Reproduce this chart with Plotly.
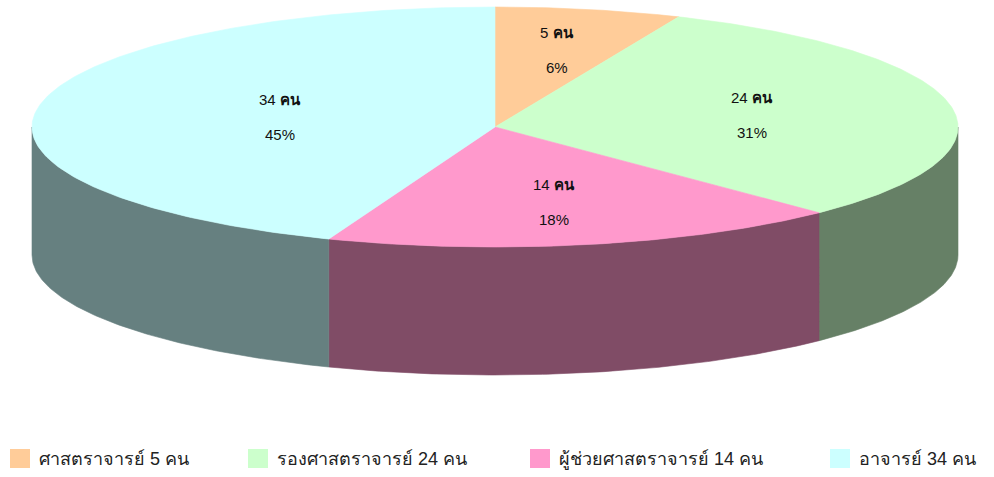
import numpy as np
import plotly.graph_objects as go

# ---- data ----
names = ["ศาสตราจารย์", "รองศาสตราจารย์", "ผู้ช่วยศาสตราจารย์", "อาจารย์"]
counts = [5, 24, 14, 34]
unit = "คน"
top_colors = ["#FFCC99", "#CCFFCC", "#FF99CC", "#CCFFFF"]
side_colors = ["#806633", "#668066", "#804C66", "#668080"]

# ---- geometry (layout, pixel space) ----
W, H = 994, 477
CX, CY = 495, 127
RX, RY = 463, 120
DEPTH = 128
FONT = "Liberation Sans, Arial, sans-serif"

total = sum(counts)
fracs = [c / total for c in counts]
pcts = [round(f * 100) for f in fracs[:-1]]
pcts.append(100 - sum(pcts))

cum = np.concatenate([[0], np.cumsum(fracs)]) * 2 * np.pi
starts, ends = cum[:-1], cum[1:]


def ex(t):
    return CX + RX * np.sin(t)


def ey(t):
    return CY - RY * np.cos(t)


fig = go.Figure()

# side walls (front half only: pi/2 .. 3pi/2)
for i in range(len(counts)):
    lo = max(starts[i], np.pi / 2)
    hi = min(ends[i], 3 * np.pi / 2)
    if hi <= lo:
        continue
    t = np.linspace(lo, hi, 120)
    xs = ex(t)
    ys = ey(t)
    px = np.concatenate([xs, xs[::-1], xs[:1]])
    py = np.concatenate([ys, (ys + DEPTH)[::-1], ys[:1]])
    fig.add_trace(go.Scatter(x=px, y=py, mode="lines", fill="toself",
                             fillcolor=side_colors[i],
                             line=dict(width=0.6, color=side_colors[i]),
                             hoverinfo="skip", showlegend=False))

# top faces
for i in range(len(counts)):
    t = np.linspace(starts[i], ends[i], 200)
    px = np.concatenate([[CX], ex(t), [CX]])
    py = np.concatenate([[CY], ey(t), [CY]])
    fig.add_trace(go.Scatter(x=px, y=py, mode="lines", fill="toself",
                             fillcolor=top_colors[i],
                             line=dict(width=0.6, color=top_colors[i]),
                             hoverinfo="skip", showlegend=False))

# labels at sector centroids
for i in range(len(counts)):
    a = (ends[i] - starts[i]) / 2
    m = (starts[i] + ends[i]) / 2
    k = 2 * np.sin(a) / (3 * a)
    lx = CX + k * RX * np.sin(m)
    ly = CY - k * RY * np.cos(m)
    fig.add_annotation(x=lx, y=ly - 17, text=f"{counts[i]} <b>{unit}</b>", showarrow=False,
                       font=dict(size=15, color="#111111", family=FONT))
    fig.add_annotation(x=lx, y=ly + 18, text=f"{pcts[i]}%", showarrow=False,
                       font=dict(size=15, color="#111111", family=FONT))

# legend (drawn manually, one row at the bottom)
legend_x = [10, 248, 530, 830]
for i in range(len(counts)):
    x0 = legend_x[i]
    fig.add_shape(type="rect", x0=x0, x1=x0 + 20, y0=449, y1=468,
                  fillcolor=top_colors[i], line=dict(width=0), layer="above")
    fig.add_annotation(x=x0 + 27, y=459, xanchor="left", yanchor="middle",
                       text=f"{names[i]} {counts[i]} {unit}", showarrow=False,
                       font=dict(size=18, color="#222222", family=FONT))

fig.update_layout(
    width=W, height=H,
    margin=dict(l=0, r=0, t=0, b=0),
    paper_bgcolor="white", plot_bgcolor="white",
    xaxis=dict(range=[0, W], visible=False, fixedrange=True),
    yaxis=dict(range=[H, 0], visible=False, fixedrange=True),
    showlegend=False,
)

fig.write_html("out.html", config={"displayModeBar": False},
               post_script="document.body.style.margin='0px';")
